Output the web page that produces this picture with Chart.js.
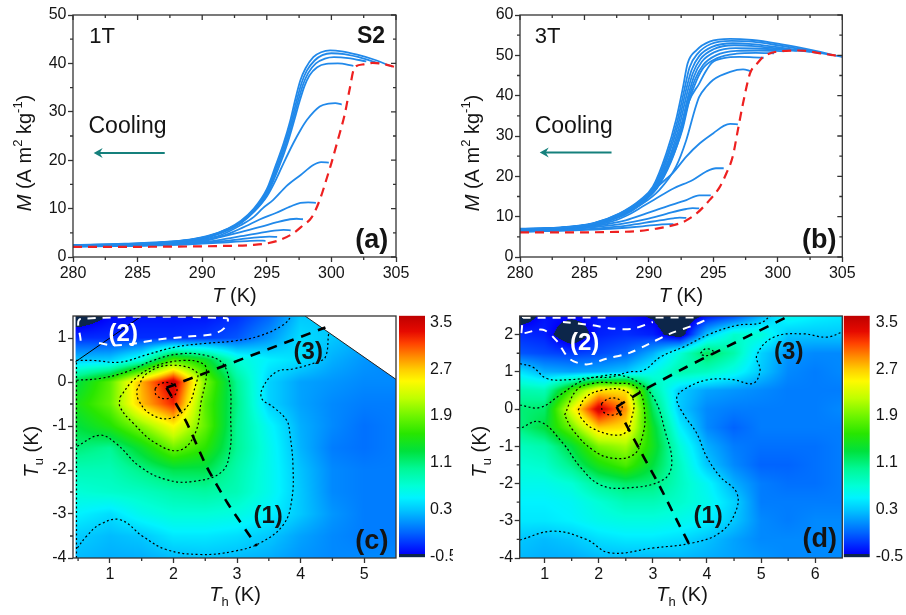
<!DOCTYPE html>
<html>
<head>
<meta charset="utf-8">
<script src="https://cdn.jsdelivr.net/npm/chart.js@4.4.1/dist/chart.umd.min.js"></script>
<style>
  html, body { margin: 0; padding: 0; background: #fff; }
  #wrap { position: relative; width: 906px; height: 615px; overflow: hidden; background: #fff; }
  #wrap canvas { position: absolute; }
</style>
</head>
<body>
<div id="wrap">
  <canvas id="pa" width="453" height="310" style="left:0;top:0"></canvas>
  <canvas id="pb" width="453" height="310" style="left:453px;top:0"></canvas>
  <canvas id="pc" width="398" height="305" style="left:0;top:310px"></canvas>
  <canvas id="cbc" width="57" height="305" style="left:396px;top:310px"></canvas>
  <canvas id="pd" width="392" height="305" style="left:453px;top:310px"></canvas>
  <canvas id="cbd" width="66" height="305" style="left:840px;top:310px"></canvas>
</div>
<script>
// ---------- M(T) minor loops, 1 T ----------
const redA = [[280,2.1],[284,2.1],[288,2.15],[291,2.25],[294,2.5],[295,2.8],[296,3.5],[297.05,4.9],[297.7,6.3],[298.5,8.3],[299.1,11.8],[299.6,15.9],[300,19.4],[300.5,24.2],[301.05,29.7],[301.4,34.5],[301.8,39.2],[302.5,39.8],[303.2,40.1],[304,39.9],[305,39.2]];
const loopA1 = [[280,2.5],[284,2.75],[287,3.1],[289,3.6],[290.5,4.4],[292,5.9],[293,7.5],[294,10],[295,14],[295.7,19],[296.3,23.5],[296.8,28],[297.2,32.5],[297.6,36.5],[298,39],[298.6,41.3],[299.2,42.3],[299.9,42.7],[300.8,42.5],[302,41.8],[303.4,40.7],[304.7,39.3]];
const loopA2 = [[280,2.45],[284,2.7],[287,3.05],[289,3.55],[290.5,4.3],[292,5.8],[293,7.3],[294,9.8],[295,13.6],[295.8,19],[296.4,23.5],[296.9,28],[297.3,32.2],[297.7,36],[298.1,38.5],[298.7,40.6],[299.3,41.7],[300,42.1],[301,41.9],[302.5,41],[303.7,40]];
const loopA3 = [[280,2.4],[284,2.65],[287,3],[289,3.5],[290.5,4.25],[292,5.7],[293,7.2],[294,9.6],[295,13.2],[295.9,19],[296.5,23.5],[297,28],[297.4,32],[297.8,35.6],[298.2,38],[298.8,40],[299.5,41],[300.2,41.3],[301.3,41.1],[302.7,40.4]];
const loopA4 = [[280,2.35],[284,2.6],[287,2.95],[289,3.45],[290.5,4.2],[292,5.6],[293,7.1],[294,9.4],[295,12.8],[296,19],[296.6,23.5],[297.1,28],[297.5,31.8],[297.9,35.2],[298.3,37.5],[298.9,39.2],[299.6,39.9],[300.5,40],[301.7,39.5]];
const loopA5 = [[280,2.35],[285,2.6],[288,3.0],[290,3.8],[291.5,5],[293,7],[294,9.3],[295,12.5],[295.8,16.5],[296.3,19.4],[297.05,23.5],[297.6,26.2],[298.1,28.3],[299.1,31.1],[299.8,31.7],[300.3,31.8],[300.8,31.5]];
const loopA6 = [[280,2.3],[285,2.55],[288,2.9],[290,3.6],[291.5,4.6],[293,6.6],[294,8.3],[294.7,10.1],[295.5,11.8],[296.5,14.6],[297.6,16.9],[298.6,19],[299.2,19.6],[299.8,19.5]];
const loopA7 = [[280,2.3],[285,2.5],[288,2.8],[290,3.4],[291.5,4.3],[292.4,5.2],[293.4,6.4],[294.4,7.7],[295.7,9.1],[296.8,10.4],[297.6,11.2],[298.2,11.3],[298.8,11.2]];
const loopA8 = [[280,2.25],[285,2.45],[288,2.75],[290,3.2],[291.4,4.1],[292.9,5.1],[294.5,6.2],[295.8,7.2],[296.8,7.8],[297.3,7.9],[297.8,7.8]];
const loopA9 = [[280,2.2],[285,2.4],[288,2.7],[290,3.05],[291.5,3.6],[293,4.3],[294.5,5],[295.8,5.5],[296.3,5.6],[296.85,5.5]];
const loopA10 = [[280,2.2],[285,2.35],[288,2.6],[290,2.9],[291.5,3.25],[293,3.7],[294.5,4.1],[295.2,4.2],[295.8,4.15]];
const loopA11 = [[280,2.15],[285,2.3],[288,2.5],[290,2.75],[292,3.05],[293.5,3.3],[294.3,3.4],[294.9,3.35]];

// ---------- M(T) minor loops, 3 T ----------
const redB = [[280,6.1],[284,6.1],[287,6.2],[289,6.4],[290.5,7.0],[291.4,7.5],[292.7,8.75],[293.7,10.8],[294.7,14.1],[295.5,17.4],[296,20.7],[296.5,24.9],[296.9,31.5],[297.3,38.1],[297.84,45.5],[298.4,48],[298.9,49.7],[299.9,50.9],[301.7,51.2],[303.3,50.5],[305,49.7]];
const loopB1 = [[280,7.0],[283,7.3],[285.7,8.4],[287.7,10.8],[289.3,14.1],[290.3,17.4],[291.35,25.7],[292.1,34],[292.65,42.2],[293,48],[293.7,51.3],[294.7,53.4],[296.3,54.1],[298,53.8],[300,52.9],[302,51.7],[305,49.6]];
const loopB2 = [[280,6.95],[283,7.25],[285.7,8.35],[287.7,10.7],[289.3,13.9],[290.4,17.4],[291.45,25.5],[292.2,33.6],[292.75,41.5],[293.15,47],[293.8,50.5],[294.8,52.8],[296.4,53.6],[298,53.4],[300,52.5],[302,51.4],[304.2,50.0]];
const loopB3 = [[280,6.9],[283,7.2],[285.7,8.3],[287.7,10.6],[289.3,13.8],[290.5,17.5],[291.5,25],[292.3,33.3],[292.85,41],[293.3,46.3],[293.9,49.8],[294.9,52.1],[296.5,53.0],[298,52.8],[300,52.0],[302,51.1],[303.4,50.5]];
const loopB4 = [[280,6.9],[283,7.2],[285.7,8.25],[287.7,10.5],[289.3,13.6],[290.5,17.3],[291.6,24.8],[292.4,33],[292.95,40.5],[293.4,45.5],[294,49.1],[295,51.5],[296.6,52.5],[298.2,52.3],[300.3,51.6],[302.5,50.9]];
const loopB5 = [[280,6.85],[283,7.2],[285.7,8.2],[287.7,10.4],[289.3,13.5],[290.5,17.1],[291.65,24.5],[292.5,32.6],[293.05,40],[293.5,44.8],[294.1,48.4],[295.1,50.8],[296.7,51.8],[298.4,51.7],[300.2,51.4],[301.5,51.1]];
const loopB6 = [[280,6.85],[283,7.15],[285.7,8.15],[287.7,10.3],[289.3,13.4],[290.55,17.1],[291.7,24.2],[292.55,32],[293.1,39.4],[293.6,44.2],[294.2,47.6],[295.2,50],[296.8,51.1],[298.5,51.2],[300.5,51.0]];
const loopB7 = [[280,6.85],[283,7.15],[285.7,8.1],[287.7,10.25],[289.3,13.3],[290.6,17],[291.7,23.8],[292.6,31.6],[293.15,39],[293.7,43.8],[294.25,47],[295.3,49.3],[296.8,50.4],[298.3,50.6],[299.7,50.5]];
const loopB8 = [[280,6.85],[283,7.15],[285.7,8.1],[287.7,10.2],[289.3,13.2],[290.6,17],[291.7,23.5],[292.5,31],[293.1,38.5],[293.9,43],[294.4,46],[294.9,48.2],[295.8,49.3],[297,49.6],[298.1,49.5],[298.9,49.4]];
const loopB9 = [[280,6.8],[283,7.1],[285.7,8.0],[287.7,10],[289.3,12.8],[290.8,16.6],[292.1,22.4],[292.9,29],[293.55,36.4],[293.9,39.7],[294.45,42.2],[294.97,43.9],[296.3,45.9],[297.3,46.5],[297.9,46.1]];
const loopB10 = [[280,6.7],[284,7.3],[286,8.2],[287.5,9.6],[288.7,11.5],[289.7,14],[290.7,17.5],[291.9,21],[292.9,24.9],[293.95,28.2],[295,30.7],[295.8,32.5],[296.3,33],[296.9,32.9]];
const loopB11 = [[280,6.6],[284,7.2],[286,8],[287.5,9.2],[288.6,10.8],[289.5,12.5],[290.4,14.2],[291.9,17],[293.4,19.1],[294.45,21.2],[295.2,22],[295.8,22]];
const loopB12 = [[280,6.5],[284,7.1],[286,7.8],[288.2,9.1],[289.8,10.8],[291.35,12.5],[292.9,14.1],[293.9,15.3],[294.8,15.3]];
const loopB13 = [[280,6.4],[284,6.9],[286,7.5],[288,8.3],[289.8,9.4],[291.35,10.7],[292.9,11.9],[293.4,12.1],[293.9,12.05]];
const loopB14 = [[280,6.3],[284,6.7],[286,7.1],[288.3,7.8],[290.3,8.8],[291.9,9.6],[292.4,9.75],[292.9,9.7]];
const loopB15 = [[280,6.25],[284,6.6],[287,7.0],[289.5,7.6],[291,8.1],[291.9,8.15]];

// ---------- FORC-type distribution, 1 T ----------
const thC = [0.5,1.0,1.5,2.0,2.5,3.0,3.5,4.0,4.5,5.0,5.5];
const tuC = [1.5,1.0,0.5,0,-0.5,-1,-1.5,-2,-2.5,-3,-3.5,-4];
const rhoC = [
  [-0.65,-0.45,-0.4,-0.4,-0.4,-0.3,-0.1,0.3,0.3,0.2,0.2],
  [-0.3,-0.3,-0.3,-0.3,-0.25,-0.15,0.1,0.4,0.3,0.2,0.1],
  [0.3,0.32,0.7,1.75,1.4,0.7,0.5,0.4,0.2,0.1,0.05],
  [1.3,1.8,2.8,3.55,1.95,1.0,0.35,0.15,0.1,0.05,0.05],
  [1.5,1.85,2.75,3.25,1.8,1.05,0.35,0.15,0.05,0.0,0.0],
  [1.3,1.55,2.0,2.5,1.85,1.0,0.55,0.2,0.05,-0.05,0.0],
  [1.1,1.0,1.4,1.9,1.6,1.0,0.6,0.22,0.0,-0.05,0.0],
  [0.85,0.85,1.05,1.25,1.25,0.9,0.6,0.28,0.05,0.0,0.0],
  [0.7,0.75,0.8,0.9,0.95,0.85,0.6,0.3,0.05,0.0,0.0],
  [0.5,0.4,0.6,0.7,0.7,0.65,0.5,0.3,0.1,0.0,0.0],
  [0.32,0.25,0.3,0.45,0.45,0.4,0.3,0.15,0.05,0.0,0.0],
  [0.25,0.2,0.2,0.25,0.28,0.25,0.2,0.1,0.05,0.05,0.05]
];
const c03Top = [[0.47,0.49],[0.74,0.49],[1.16,0.45],[1.58,0.62],[2.05,0.8],[2.52,0.88],[2.94,0.93],[3.36,1.05],[3.73,1.3],[3.86,1.5]];
const c11 = [[0.475,0.04],[0.84,0.08],[1.26,0.23],[1.68,0.49],[2.1,0.64],[2.52,0.6],[2.78,0.41],[2.89,-0.11],[2.9,-0.79],[2.89,-1.54],[2.76,-2.04],[2.31,-2.26],[1.89,-2.22],[1.47,-1.92],[1.1,-1.4],[0.84,-1.21],[0.475,-1.47]];
const c19 = [[1.16,-0.34],[1.37,0.04],[1.68,0.34],[2.15,0.49],[2.47,0.41],[2.52,0.19],[2.44,-0.41],[2.34,-1.17],[2.1,-1.55],[1.73,-1.4],[1.37,-0.94],[1.16,-0.57],[1.16,-0.34]];
const c27 = [[1.42,-0.19],[1.58,0.19],[1.94,0.38],[2.36,0.23],[2.34,-0.11],[2.21,-0.57],[1.94,-0.83],[1.63,-0.72],[1.45,-0.41],[1.42,-0.19]];
const c35 = [[1.71,-0.15],[1.79,-0.04],[1.94,-0.02],[2.05,-0.13],[2.02,-0.3],[1.87,-0.38],[1.73,-0.3],[1.71,-0.15]];
const c03Low = [[4.44,1.09],[4.39,0.57],[4.25,0.45],[3.89,0.3],[3.62,0.23],[3.41,-0.11],[3.39,-0.38],[3.57,-0.57],[3.78,-0.87],[3.83,-1.17],[3.88,-1.92],[3.86,-2.68],[3.73,-3.24],[3.36,-3.66],[2.94,-3.85],[2.42,-3.92],[1.89,-3.81],[1.52,-3.51],[1.16,-3.13],[0.84,-3.24],[0.63,-3.51],[0.49,-3.77]];
const cEdge = [[0.475,-4],[0.475,0.45]];
const cNeg = [[0.54,0.94],[0.54,1.43],[2.84,1.45],[2.81,1.24],[2.63,1.09],[2.21,1.03],[1.73,0.96],[1.42,0.88],[1.05,0.83],[0.79,0.9]];
const cRidge3 = [[1.89,-0.13],[4.39,1.24]];
const cRidge1 = [[1.89,-0.13],[2.2,-0.9],[2.52,-1.92],[2.85,-2.75],[3.31,-3.73]];
const cDiag = [[0.46,0.46],[1.48,1.48]];
const cLimit = [[4.07,1.5],[5.5,0.06]];
const cRegion = [[0.46,-4],[0.46,1.5],[4.07,1.5],[5.5,0.06],[5.5,-4]];

// ---------- FORC-type distribution, 3 T ----------
const thD = [0.5,1.0,1.5,2.0,2.5,3.0,3.5,4.0,4.5,5.0,5.5,6.0,6.5];
const tuD = [2.5,2.0,1.5,1.0,0.5,0,-0.5,-1,-1.5,-2,-2.5,-3,-3.5,-4];
const rhoD = [
  [-0.65,-0.4,-0.42,-0.4,-0.4,-0.5,-0.75,-0.4,-0.2,0.2,0.6,0.5,0.45],
  [-0.3,-0.35,-0.7,-0.35,-0.3,-0.35,-0.65,0.3,0.75,0.7,0.3,0.3,0.3],
  [-0.15,-0.2,-0.25,-0.2,-0.1,0.2,0.7,1.2,0.9,0.35,0.1,0.05,0.05],
  [0.45,0.2,0.15,0.2,0.3,0.6,0.9,0.8,0.6,0.3,0.05,0.0,0.05],
  [0.9,0.85,1.7,2.6,2.6,0.95,0.32,0.15,0.1,0.05,0.0,0.0,0.0],
  [1.1,1.15,2.4,3.5,2.9,1.2,0.3,0.05,0.0,0.0,0.0,0.0,0.05],
  [1.05,1.3,1.9,2.7,2.6,1.4,0.5,0.05,-0.1,0.0,0.0,0.0,0.0],
  [0.8,0.9,1.3,1.95,2.1,1.45,0.7,0.2,0.0,-0.05,-0.05,-0.05,0.0],
  [0.7,0.75,1.05,1.5,1.75,1.3,0.8,0.3,0.05,-0.1,-0.1,-0.05,0.0],
  [0.6,0.6,0.7,1.0,1.15,1.1,0.8,0.55,0.2,0.0,-0.05,-0.05,0.0],
  [0.5,0.5,0.55,0.7,0.85,0.85,0.75,0.6,0.35,0.0,0.0,0.0,0.0],
  [0.45,0.45,0.5,0.6,0.65,0.65,0.6,0.5,0.3,0.05,0.0,0.05,0.05],
  [0.3,0.25,0.3,0.4,0.45,0.45,0.4,0.28,0.15,0.05,0.05,0.05,0.05],
  [0.25,0.2,0.2,0.25,0.25,0.25,0.25,0.2,0.15,0.1,0.05,0.05,0.05]
];
const d03Top = [[0.54,1.22],[0.78,1.13],[1.04,0.82],[1.46,0.79],[1.89,0.85],[2.21,0.86],[2.57,1.0],[2.83,1.04],[3.14,1.4],[3.57,1.67],[4.06,2.02],[4.56,2.25],[4.98,2.31],[5.17,2.5]];
const d11 = [[0.54,0.11],[0.91,0.04],[1.28,0.37],[1.65,0.73],[2.02,0.88],[2.39,0.91],[2.76,0.69],[3.04,0.24],[3.22,-0.56],[3.35,-1.45],[3.19,-1.9],[2.51,-2.12],[2.02,-2.03],[1.65,-1.54],[1.34,-0.92],[0.91,-0.34],[0.54,-0.52]];
const d19 = [[1.37,-0.16],[1.59,0.51],[1.89,0.69],[2.26,0.7],[2.7,0.58],[2.85,-0.12],[2.79,-0.83],[2.64,-1.23],[2.26,-1.32],[1.89,-1.1],[1.52,-0.56],[1.37,-0.16]];
const d27 = [[1.62,-0.03],[1.77,0.33],[2.08,0.51],[2.45,0.51],[2.64,0.24],[2.6,-0.29],[2.51,-0.61],[2.3,-0.7],[1.89,-0.52],[1.68,-0.25],[1.62,-0.03]];
const d35 = [[2.05,0.15],[2.2,0.29],[2.39,0.24],[2.42,-0.03],[2.26,-0.16],[2.08,-0.07],[2.05,0.15]];
const d03Low = [[0.54,-3.52],[1.15,-3.28],[1.77,-3.5],[2.2,-3.86],[3.01,-3.73],[3.75,-3.59],[4.24,-3.32],[4.52,-2.79],[4.55,-2.25],[4.24,-1.81],[3.99,-1.27],[3.81,-0.65],[3.56,-0.12],[3.44,0.29],[3.56,0.51],[3.99,0.78],[4.48,0.79],[4.85,0.69],[4.98,1.04],[4.92,1.44],[5.23,1.93],[5.78,2.02],[6.21,1.93],[6.5,2.07]];
const d03Spot = [[3.88,1.5],[3.98,1.62],[4.12,1.55],[4.05,1.45],[3.92,1.45],[3.88,1.5]];
const dNegA = [[0.57,2.04],[0.6,2.45],[2.2,2.46]];
const dNegB = [[3.05,2.46],[3.85,2.46]];
const dNegC = [[0.63,2.04],[0.97,2.13],[1.22,1.84],[1.46,1.35],[1.77,1.2],[2.14,1.35],[2.57,1.51],[2.94,1.76],[3.31,2.02],[3.75,2.25],[3.99,2.4]];
const dNegD = [[1.34,2.34],[1.89,2.25],[2.26,2.16],[2.63,2.16],[3.0,2.34]];
const dRidge3 = [[2.33,0.06],[2.88,0.55],[3.62,1.13],[4.36,1.67],[5.47,2.47]];
const dRidge1 = [[2.33,0.06],[2.76,-1.1],[3.13,-2.08],[3.5,-3.15],[3.69,-3.68]];
const dRegion = [[0.54,-4],[0.54,2.5],[6.5,2.5],[6.5,-4]];

// ---------- axis ticks ----------
const tTicks = [280,285,290,295,300,305];
const tMinor = [282.5,287.5,292.5,297.5,302.5];
const mTicksA = [0,10,20,30,40,50];
const mTicksB = [0,10,20,30,40,50,60];
const mMinorA = [5,15,25,35,45];
const mMinorB = [5,15,25,35,45,55];
const thTicksC = [1,2,3,4,5];
const thMinorC = [0.5,1.5,2.5,3.5,4.5];
const tuTicksC = [-4,-3,-2,-1,0,1];
const tuMinorC = [-3.5,-2.5,-1.5,-0.5,0.5];
const thTicksD = [1,2,3,4,5,6];
const thMinorD = [1.5,2.5,3.5,4.5,5.5];
const tuTicksD = [-4,-3,-2,-1,0,1,2];
const tuMinorD = [-3.5,-2.5,-1.5,-0.5,0.5,1.5];
const scaleTicks = [-0.5,0.3,1.1,1.9,2.7,3.5];

// ---------- styling ----------
const FONT = 'Arial, "Liberation Sans", Helvetica, sans-serif';
const BLUE = '#2189ea';
const RED = '#ee2020';
const TEAL = '#15807c';
const AXIS = '#333';
const INK = '#141414';
Chart.defaults.font.family = FONT;
Chart.defaults.color = INK;

// jet-like palette of the density scale
const CB_MIN = -0.52, CB_MAX = 3.62;
const NAVY = [12,38,74];
const NAVY_TOP = -0.47;
const CMAP = [
  [-0.47,[0,0,250]], [-0.3,[0,45,255]], [-0.1,[0,100,255]], [0.1,[0,150,255]],
  [0.3,[0,200,255]], [0.5,[0,243,255]], [0.7,[0,255,215]], [1.0,[0,248,150]],
  [1.3,[0,225,60]], [1.6,[40,230,0]], [1.9,[110,245,0]], [2.2,[190,255,0]],
  [2.5,[255,250,0]], [2.7,[255,205,0]], [2.9,[255,145,0]], [3.15,[255,65,0]],
  [3.35,[230,10,0]], [3.62,[190,0,0]]
];
function colorOf(v) {
  if (v < NAVY_TOP) return NAVY;
  for (let k = 1; k < CMAP.length; k++) {
    if (v <= CMAP[k][0]) {
      const [v0, c0] = CMAP[k - 1], [v1, c1] = CMAP[k];
      const t = Math.max(0, (v - v0) / (v1 - v0));
      return c0.map((c, i) => Math.round(c + (c1[i] - c) * t));
    }
  }
  return CMAP[CMAP.length - 1][1];
}
const rgb = c => `rgb(${c[0]},${c[1]},${c[2]})`;

// ---------- helpers ----------
function axis(pos, min, max, majors, size, fmt) {
  const vertical = pos === 'left' || pos === 'right';
  return {
    type: 'linear', position: pos, min, max,
    afterBuildTicks: s => { s.ticks = majors.map(v => ({ value: v })); },
    afterFit: s => {
      if (vertical) s.width = size; else s.height = size;
      s.paddingLeft = s.paddingRight = s.paddingTop = s.paddingBottom = 0;
    },
    ticks: { font: { size: 16, family: FONT }, color: INK, padding: 1.5, maxRotation: 0, autoSkip: false,
             callback: fmt || (v => String(v)) },
    grid: { drawOnChartArea: false, drawTicks: true, tickLength: 5, tickWidth: 1.3, tickColor: AXIS },
    border: { display: false }
  };
}
function curve(pts, color, width, dash) {
  return { data: pts.map(([x, y]) => ({ x, y })), showLine: true, pointRadius: 0, borderColor: color,
           borderWidth: width, borderDash: dash || [], cubicInterpolationMode: 'monotone', fill: false };
}
function path(pts, color, width, dash, tension) {
  return { data: pts.map(([x, y]) => ({ x, y })), showLine: true, pointRadius: 0, borderColor: color,
           borderWidth: width, borderDash: dash || [], tension: tension === undefined ? 0.4 : tension, fill: false };
}
function frame(xMinor, yMinor, mirror) {
  return { id: 'frame', afterDraw(chart) {
    const { ctx, chartArea: a, scales: { x, y } } = chart;
    ctx.save();
    ctx.strokeStyle = AXIS; ctx.lineWidth = 1.3;
    ctx.beginPath();
    xMinor.forEach(v => { const p = x.getPixelForValue(v); ctx.moveTo(p, a.bottom); ctx.lineTo(p, a.bottom + 3);
      if (mirror) { ctx.moveTo(p, a.top); ctx.lineTo(p, a.top + 3); } });
    yMinor.forEach(v => { const p = y.getPixelForValue(v); ctx.moveTo(a.left, p); ctx.lineTo(a.left - 3, p);
      if (mirror) { ctx.moveTo(a.right, p); ctx.lineTo(a.right - 3, p); } });
    if (mirror) {
      x.ticks.forEach(t => { const p = x.getPixelForValue(t.value); ctx.moveTo(p, a.top); ctx.lineTo(p, a.top + 5); });
      y.ticks.forEach(t => { const p = y.getPixelForValue(t.value); ctx.moveTo(a.right, p); ctx.lineTo(a.right - 5, p); });
    }
    ctx.stroke();
    ctx.strokeRect(a.left, a.top, a.width, a.height);
    ctx.restore();
  } };
}
function richText(ctx, parts, x, y, rotated) {
  const fontOf = p => `${p.i ? 'italic ' : ''}${p.s ? 13 : 20}px ${FONT}`;
  let total = 0;
  const widths = parts.map(p => { ctx.font = fontOf(p); const w = ctx.measureText(p.t).width; total += w; return w; });
  ctx.save();
  ctx.translate(x, y);
  if (rotated) ctx.rotate(-Math.PI / 2);
  ctx.fillStyle = INK; ctx.textBaseline = 'alphabetic'; ctx.textAlign = 'left';
  let cur = -total / 2;
  parts.forEach((p, k) => {
    ctx.font = fontOf(p);
    ctx.fillText(p.t, cur, p.s === 'sup' ? -9 : p.s === 'sub' ? 5 : 0);
    cur += widths[k];
  });
  ctx.restore();
}
function titles(xt, yt) {
  return { id: 'titles', afterDraw(chart) {
    richText(chart.ctx, xt.parts, xt.x, xt.y, false);
    richText(chart.ctx, yt.parts, yt.x, yt.y, true);
  } };
}
function notes(items, arrow) {
  return { id: 'notes', afterDatasetsDraw(chart) {
    const { ctx, scales: { x, y } } = chart;
    ctx.save();
    items.forEach(it => {
      ctx.font = `${it.bold ? 'bold ' : ''}${it.size}px ${FONT}`;
      ctx.fillStyle = it.color || INK;
      ctx.textAlign = it.align || 'center';
      ctx.textBaseline = 'middle';
      ctx.fillText(it.text, x.getPixelForValue(it.x), y.getPixelForValue(it.y));
    });
    if (arrow) {
      const x0 = x.getPixelForValue(arrow.from), x1 = x.getPixelForValue(arrow.to), yy = y.getPixelForValue(arrow.at);
      ctx.strokeStyle = TEAL; ctx.fillStyle = TEAL; ctx.lineWidth = 2;
      ctx.beginPath(); ctx.moveTo(x0, yy); ctx.lineTo(x1 + 4, yy); ctx.stroke();
      ctx.beginPath(); ctx.moveTo(x1, yy); ctx.lineTo(x1 + 9, yy - 5); ctx.lineTo(x1 + 6, yy); ctx.lineTo(x1 + 9, yy + 5); ctx.closePath(); ctx.fill();
    }
    ctx.restore();
  } };
}
// Shades the density surface: each screen pixel is mapped back to (Th, Tu)
// through the chart scales and coloured from the measured grid nodes.
function densityLayer(xs, ys, grid, region) {
  return { id: 'density', beforeDatasetsDraw(chart) {
    const { ctx, chartArea: a, scales: { x, y } } = chart;
    const nx = xs.length, ny = ys.length;
    const dx = xs[1] - xs[0], dy = ys[0] - ys[1];
    const W = Math.ceil(a.width), H = Math.ceil(a.height);
    const off = document.createElement('canvas');
    off.width = W; off.height = H;
    const oc = off.getContext('2d');
    const img = oc.createImageData(W, H);
    const clamp = (v, lo, hi) => Math.min(hi, Math.max(lo, v));
    for (let py = 0; py < H; py++) {
      const tu = y.getValueForPixel(a.top + py + 0.5);
      const fj = clamp((ys[0] - tu) / dy, 0, ny - 1);
      const j0 = Math.min(ny - 2, Math.floor(fj)), tj = fj - j0;
      for (let px = 0; px < W; px++) {
        const th = x.getValueForPixel(a.left + px + 0.5);
        const fi = clamp((th - xs[0]) / dx, 0, nx - 1);
        const i0 = Math.min(nx - 2, Math.floor(fi)), ti = fi - i0;
        const v = (grid[j0][i0] * (1 - ti) + grid[j0][i0 + 1] * ti) * (1 - tj) +
                  (grid[j0 + 1][i0] * (1 - ti) + grid[j0 + 1][i0 + 1] * ti) * tj;
        const c = colorOf(v), k = (py * W + px) * 4;
        img.data[k] = c[0]; img.data[k + 1] = c[1]; img.data[k + 2] = c[2]; img.data[k + 3] = 255;
      }
    }
    oc.putImageData(img, 0, 0);
    ctx.save();
    ctx.beginPath(); ctx.rect(a.left, a.top, a.width, a.height); ctx.clip();
    ctx.beginPath();
    region.forEach(([px, py], n) => { const X = x.getPixelForValue(px), Y = y.getPixelForValue(py); n ? ctx.lineTo(X, Y) : ctx.moveTo(X, Y); });
    ctx.closePath(); ctx.clip();
    ctx.drawImage(off, a.left, a.top);
    ctx.restore();
  } };
}
const base = { responsive: false, animation: false, events: [], devicePixelRatio: 1,
  plugins: { legend: { display: false }, tooltip: { enabled: false } } };

const M_TITLE = [{ t: 'M', i: true }, { t: ' (A m' }, { t: '2', s: 'sup' }, { t: ' kg' }, { t: '-1', s: 'sup' }, { t: ')' }];
const T_TITLE = [{ t: 'T', i: true }, { t: ' (K)' }];
const TU_TITLE = [{ t: 'T', i: true }, { t: 'u', s: 'sub' }, { t: ' (K)' }];
const TH_TITLE = [{ t: 'T', i: true }, { t: 'h', s: 'sub' }, { t: ' (K)' }];

// ---------- (a) 1 T ----------
new Chart(document.getElementById('pa'), {
  type: 'scatter',
  data: { datasets: [
    curve(redA, RED, 2.2, [9, 6]),
    ...[loopA1, loopA2, loopA3, loopA4, loopA5, loopA6, loopA7, loopA8, loopA9, loopA10, loopA11].map(d => curve(d, BLUE, 1.8))
  ] },
  options: { ...base,
    layout: { padding: { left: 0, top: 15, right: 57, bottom: 0 } },
    scales: { x: axis('bottom', 280, 305, tTicks, 53), y: axis('left', 0, 50, mTicksA, 73) }
  },
  plugins: [frame(tMinor, mMinorA, true),
    titles({ parts: T_TITLE, x: 234.5, y: 302 }, { parts: M_TITLE, x: 31, y: 153 }),
    notes([
      { text: '1T', x: 281.26, y: 45.5, size: 22, align: 'left' },
      { text: 'S2', x: 304.15, y: 45.5, size: 23, bold: true, align: 'right' },
      { text: 'Cooling', x: 281.2, y: 26.9, size: 23, align: 'left' },
      { text: '(a)', x: 304.4, y: 3.5, size: 27, bold: true, align: 'right' }
    ], { from: 287.1, to: 281.6, at: 21.5 })]
});

// ---------- (b) 3 T ----------
new Chart(document.getElementById('pb'), {
  type: 'scatter',
  data: { datasets: [
    curve(redB, RED, 2.2, [9, 6]),
    ...[loopB1, loopB2, loopB3, loopB4, loopB5, loopB6, loopB7, loopB8, loopB9, loopB10, loopB11, loopB12, loopB13, loopB14, loopB15].map(d => curve(d, BLUE, 1.8))
  ] },
  options: { ...base,
    layout: { padding: { left: 0, top: 15, right: 63.7, bottom: 0 } },
    scales: { x: axis('bottom', 280, 305, tTicks, 53), y: axis('left', 0, 60, mTicksB, 67) }
  },
  plugins: [frame(tMinor, mMinorB, true),
    titles({ parts: T_TITLE, x: 228, y: 302 }, { parts: M_TITLE, x: 26, y: 153 }),
    notes([
      { text: '3T', x: 281.14, y: 54.6, size: 22, align: 'left' },
      { text: 'Cooling', x: 281.14, y: 32.3, size: 23, align: 'left' },
      { text: '(b)', x: 304.55, y: 4.2, size: 27, bold: true, align: 'right' }
    ], { from: 287.1, to: 281.53, at: 25.9 })]
});

// ---------- (c) distribution at 1 T ----------
const DOT = [2, 2.5];
new Chart(document.getElementById('pc'), {
  type: 'scatter',
  data: { datasets: [
    path(cRidge3, '#000', 2.6, [10, 8], 0),
    path(cRidge1, '#000', 2.6, [10, 8], 0.2),
    path(c03Top, '#000', 1.2, DOT), path(c11, '#000', 1.2, DOT), path(c19, '#000', 1.2, DOT),
    path(c27, '#000', 1.2, DOT), path(c35, '#000', 1.2, DOT), path(c03Low, '#000', 1.2, DOT),
    path(cEdge, '#000', 1.2, DOT, 0),
    path(cNeg, '#fff', 2, [8, 7], 0.3),
    path(cDiag, '#000', 1, [], 0),
    path(cLimit, '#222', 1, [], 0)
  ] },
  options: { ...base,
    layout: { padding: { left: 0, top: 6, right: 2, bottom: 0 } },
    scales: { x: axis('bottom', 0.42, 5.5, thTicksC, 57), y: axis('left', -4, 1.5, tuTicksC, 73) }
  },
  plugins: [densityLayer(thC, tuC, rhoC, cRegion), frame(thMinorC, tuMinorC, false),
    titles({ parts: TH_TITLE, x: 235, y: 291 }, { parts: TU_TITLE, x: 38, y: 141.7 }),
    notes([
      { text: '(1)', x: 3.49, y: -3.05, size: 24, bold: true },
      { text: '(2)', x: 1.21, y: 1.09, size: 24, bold: true, color: '#fff' },
      { text: '(3)', x: 4.12, y: 0.68, size: 24, bold: true },
      { text: '(c)', x: 5.38, y: -3.62, size: 27, bold: true, align: 'right' }
    ])]
});

// ---------- (d) distribution at 3 T ----------
new Chart(document.getElementById('pd'), {
  type: 'scatter',
  data: { datasets: [
    path(dRidge3, '#000', 2.6, [10, 8], 0.1),
    path(dRidge1, '#000', 2.6, [10, 8], 0.1),
    path(d03Top, '#000', 1.2, DOT), path(d11, '#000', 1.2, DOT), path(d19, '#000', 1.2, DOT),
    path(d27, '#000', 1.2, DOT), path(d35, '#000', 1.2, DOT), path(d03Low, '#000', 1.2, DOT),
    path(d03Spot, '#000', 1.2, DOT),
    path(dNegA, '#fff', 2, [8, 7], 0), path(dNegB, '#fff', 2, [8, 7], 0),
    path(dNegC, '#fff', 2, [8, 7], 0.3), path(dNegD, '#fff', 2, [8, 7], 0.3)
  ] },
  options: { ...base,
    layout: { padding: { left: 0, top: 6, right: 2.7, bottom: 0 } },
    scales: { x: axis('bottom', 0.54, 6.5, thTicksD, 57), y: axis('left', -4, 2.5, tuTicksD, 66.7) }
  },
  plugins: [densityLayer(thD, tuD, rhoD, dRegion), frame(thMinorD, tuMinorD, false),
    titles({ parts: TH_TITLE, x: 229, y: 291 }, { parts: TU_TITLE, x: 33, y: 141.7 }),
    notes([
      { text: '(1)', x: 4.02, y: -2.88, size: 24, bold: true },
      { text: '(2)', x: 1.74, y: 1.76, size: 24, bold: true, color: '#fff' },
      { text: '(3)', x: 5.51, y: 1.53, size: 24, bold: true },
      { text: '(d)', x: 6.40, y: -3.5, size: 27, bold: true, align: 'right' }
    ])]
});

// ---------- colour scales ----------
function scaleBar(id, padLeft, axisWidth, labelGap) {
  new Chart(document.getElementById(id), {
    type: 'bar',
    data: { labels: [''], datasets: [{
      data: [[CB_MIN, CB_MAX]], borderWidth: 0, barPercentage: 1, categoryPercentage: 1,
      backgroundColor(context) {
        const chart = context.chart, { ctx, chartArea, scales } = chart;
        if (!chartArea) return 'rgba(0,0,0,0)';
        const y0 = scales.y.getPixelForValue(CB_MIN), y1 = scales.y.getPixelForValue(CB_MAX);
        const g = ctx.createLinearGradient(0, y0, 0, y1);
        const off = v => (v - CB_MIN) / (CB_MAX - CB_MIN);
        g.addColorStop(0, rgb(NAVY));
        g.addColorStop(off(NAVY_TOP), rgb(NAVY));
        CMAP.forEach(([v, c]) => g.addColorStop(Math.min(1, off(v)), rgb(c)));
        return g;
      }
    }] },
    options: { ...base,
      layout: { padding: { left: padLeft, top: 5.7, right: 0, bottom: 57.7 } },
      scales: {
        x: { type: 'category', display: false },
        y: { type: 'linear', position: 'right', min: CB_MIN, max: CB_MAX,
             afterBuildTicks: s => { s.ticks = scaleTicks.map(v => ({ value: v })); },
             afterFit: s => { s.width = axisWidth; s.paddingTop = s.paddingBottom = 0; },
             ticks: { font: { size: 16, family: FONT }, color: INK, padding: labelGap, callback: v => v.toFixed(1) },
             grid: { display: false, drawTicks: false }, border: { display: false } }
      }
    }
  });
}
scaleBar('cbc', 3, 28, 5);
scaleBar('cbd', 3.7, 36.3, 6);
</script>
</body>
</html>
